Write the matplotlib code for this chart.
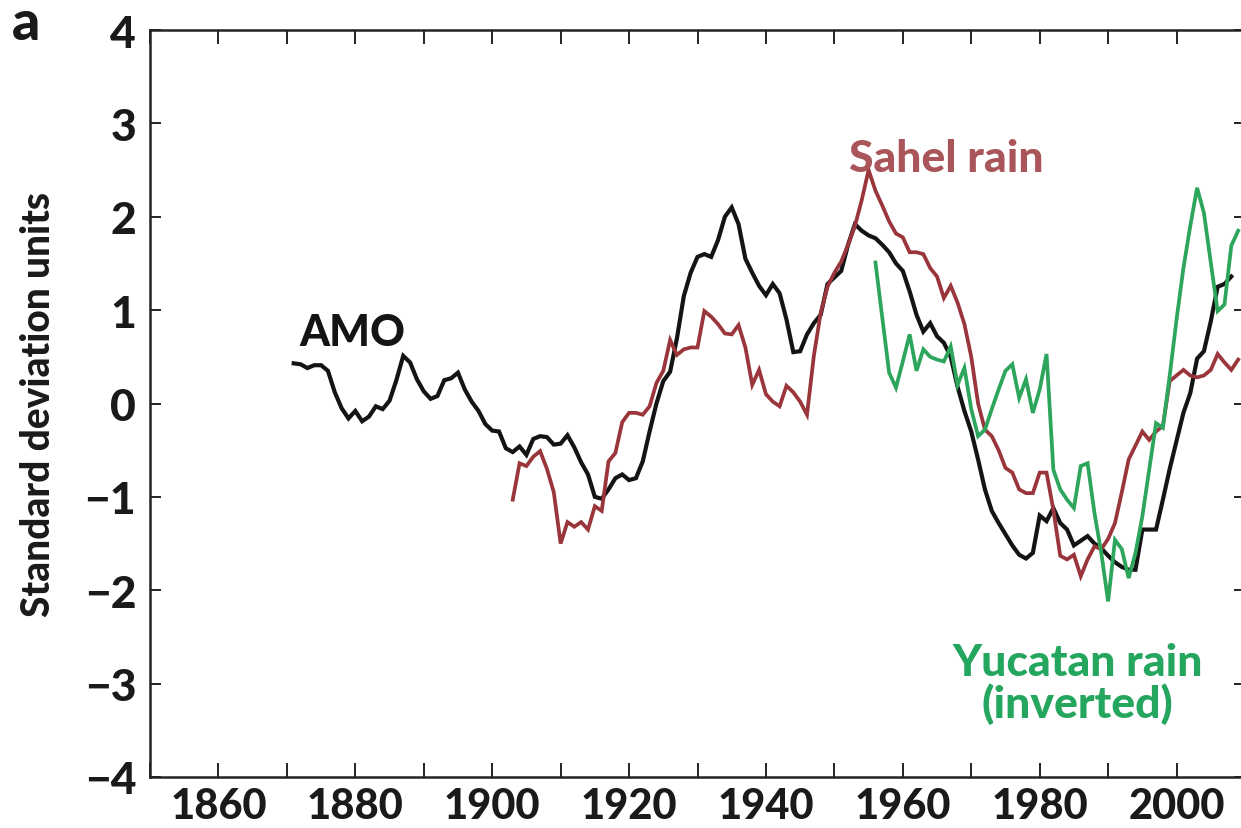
import numpy as np
import matplotlib
matplotlib.use("Agg")
import matplotlib.pyplot as plt

# ---------------- data ----------------
amo_years = list(range(1871, 2009))
amo_values = [
    0.43, 0.42, 0.38, 0.41, 0.41, 0.35, 0.12, -0.05, -0.16, -0.08,   # 1871-1880
    -0.19, -0.14, -0.03, -0.06, 0.03, 0.25, 0.51, 0.44, 0.26, 0.13,  # 1881-1890
    0.05, 0.08, 0.25, 0.27, 0.33, 0.15, 0.02, -0.08, -0.22, -0.29,   # 1891-1900
    -0.30, -0.48, -0.52, -0.46, -0.55, -0.38, -0.35, -0.36, -0.44, -0.43,  # 1901-1910
    -0.34, -0.47, -0.63, -0.76, -1.00, -1.02, -0.92, -0.80, -0.76, -0.82,  # 1911-1920
    -0.80, -0.62, -0.30, 0.00, 0.24, 0.34, 0.70, 1.15, 1.40, 1.57,   # 1921-1930
    1.60, 1.57, 1.75, 2.00, 2.10, 1.92, 1.55, 1.40, 1.26, 1.16,      # 1931-1940
    1.28, 1.18, 0.90, 0.55, 0.56, 0.74, 0.86, 0.95, 1.28, 1.35,      # 1941-1950
    1.42, 1.70, 1.92, 1.85, 1.80, 1.77, 1.70, 1.62, 1.50, 1.42,      # 1951-1960
    1.20, 0.95, 0.77, 0.86, 0.72, 0.65, 0.50, 0.18, -0.08, -0.30,    # 1961-1970
    -0.60, -0.92, -1.15, -1.28, -1.40, -1.52, -1.62, -1.66, -1.60, -1.20,  # 1971-1980
    -1.26, -1.12, -1.28, -1.35, -1.52, -1.47, -1.42, -1.50, -1.55, -1.63,  # 1981-1990
    -1.70, -1.75, -1.78, -1.78, -1.35, -1.35, -1.35, -1.03, -0.70, -0.40,  # 1991-2000
    -0.10, 0.11, 0.48, 0.56, 0.88, 1.25, 1.28, 1.36,                 # 2001-2008
]

sahel_years = list(range(1903, 2010))
sahel_values = [
    -1.03, -0.64, -0.67, -0.57, -0.51, -0.70, -0.95,                  # 1903-1909
    -1.50, -1.27, -1.32, -1.27, -1.35, -1.10, -1.15, -0.62, -0.53, -0.20,  # 1910-1919
    -0.10, -0.10, -0.12, -0.03, 0.22, 0.35, 0.68, 0.52, 0.58, 0.60,  # 1920-1929
    0.60, 0.99, 0.93, 0.85, 0.75, 0.74, 0.84, 0.60, 0.20, 0.36,      # 1930-1939
    0.10, 0.02, -0.03, 0.19, 0.12, 0.02, -0.12, 0.51, 0.97, 1.25,    # 1940-1949
    1.40, 1.52, 1.70, 1.90, 2.18, 2.50, 2.28, 2.12, 1.95, 1.82,      # 1950-1959
    1.78, 1.62, 1.62, 1.60, 1.45, 1.36, 1.13, 1.26, 1.08, 0.85,      # 1960-1969
    0.50, 0.00, -0.28, -0.35, -0.50, -0.69, -0.74, -0.92, -0.96, -0.96,  # 1970-1979
    -0.74, -0.74, -1.14, -1.63, -1.67, -1.62, -1.85, -1.67, -1.53, -1.56,  # 1980-1989
    -1.45, -1.28, -0.95, -0.60, -0.45, -0.30, -0.39, -0.30, -0.24, 0.24,  # 1990-1999
    0.30, 0.36, 0.30, 0.28, 0.30, 0.36, 0.53, 0.44, 0.36, 0.47,      # 2000-2009
]

yucatan_years = list(range(1956, 2010))
yucatan_values = [
    1.51, 0.92, 0.33, 0.17,                                          # 1956-1959
    0.45, 0.74, 0.35, 0.58, 0.50, 0.47, 0.45, 0.61, 0.20, 0.38,      # 1960-1969
    -0.06, -0.35, -0.28, -0.06, 0.15, 0.35, 0.42, 0.06, 0.26, -0.10, # 1970-1979
    0.15, 0.53, -0.71, -0.92, -1.03, -1.12, -0.67, -0.64, -1.17, -1.60,  # 1980-1989
    -2.12, -1.46, -1.56, -1.87, -1.60, -1.21, -0.71, -0.21, -0.26, 0.30,  # 1990-1999
    0.90, 1.45, 1.90, 2.31, 2.04, 1.51, 0.99, 1.06, 1.69, 1.85,      # 2000-2009
]

x_ticks = list(range(1850, 2011, 10))
x_labeled = [1860, 1880, 1900, 1920, 1940, 1960, 1980, 2000]
y_ticks = [-4, -3, -2, -1, 0, 1, 2, 3, 4]

# ---------------- style ----------------
FONT = ["Lato", "DejaVu Sans"]
plt.rcParams["font.family"] = FONT
WT = "black"
plt.rcParams["font.weight"] = WT

c_amo = "#141414"
c_sahel = "#9a363b"
c_sahel_txt = "#a9555a"
c_yuc = "#2ea55c"
c_yuc_txt = "#25a65e"
c_txt = "#1a1a1a"

W, H = 1241, 829
fig = plt.figure(figsize=(W / 100, H / 100), dpi=100)
left_px, right_px, top_px, bot_px = 150, 1245, 31, 778
ax = fig.add_axes([left_px / W, (H - bot_px) / H,
                   (right_px - left_px) / W, (bot_px - top_px) / H])

ax.plot(amo_years, amo_values, color=c_amo, lw=3.0, solid_joinstyle="miter")
ax.plot(sahel_years, sahel_values, color=c_sahel, lw=2.7, solid_joinstyle="miter")
ax.plot(yucatan_years, yucatan_values, color=c_yuc, lw=2.7, solid_joinstyle="miter")

ax.set_xlim(1850, 2010)
ax.set_ylim(-4, 4)

ax.set_xticks(x_ticks)
ax.set_xticklabels([str(t) if t in x_labeled else "" for t in x_ticks],
                   fontsize=30, fontweight=WT, color=c_txt)
ax.set_yticks(y_ticks)
ax.set_yticklabels([("\u2212" + str(-t)) if t < 0 else str(t) for t in y_ticks],
                   fontsize=32, fontweight=WT, color=c_txt)

ax.tick_params(axis="x", which="both", direction="in", length=10, width=1.4,
               top=True, bottom=True, pad=7, color="#222222")
ax.tick_params(axis="y", which="both", direction="in", length=8, width=1.4,
               left=True, right=True, pad=10, color="#222222")
for s in ax.spines.values():
    s.set_linewidth(1.8)
    s.set_color("#222222")

ax.set_ylabel("Standard deviation units", fontsize=28, fontweight=WT,
              color=c_txt, labelpad=20)

# annotations
ax.text(1871.9, 0.63, "AMO", fontsize=31, fontweight=WT, color=c_amo,
        ha="left", va="baseline")
ax.text(1966.3, 2.49, "Sahel rain", fontsize=32, fontweight=WT,
        color=c_sahel_txt, ha="center", va="baseline")
ax.text(1985.5, -2.99, "Yucatan rain\n(inverted)", fontsize=32, fontweight=WT,
        color=c_yuc_txt, ha="center", va="center", linespacing=1.0)

fig.text(12 / W, 1 - 40 / H, "a", fontsize=40, fontweight=WT,
         color=c_txt, ha="left", va="baseline")

fig.savefig("out.png", dpi=100)
